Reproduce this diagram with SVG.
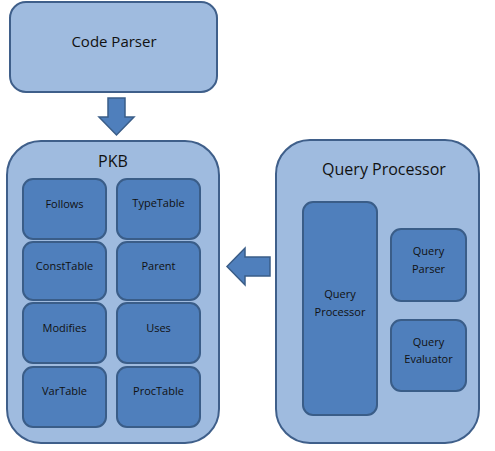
<svg xmlns="http://www.w3.org/2000/svg" width="495" height="451" viewBox="0 0 495 451">
<style>
.outer{fill:#9FBBDF;stroke:#3F5F8A;stroke-width:2}
.inner{fill:#4F7FBC;stroke:#3A5D88;stroke-width:2}
.arrow{fill:#4F7FBC;stroke:#3A5D88;stroke-width:1.5}
text{font-family:"Open Sans","Noto Sans","Liberation Sans",sans-serif;fill:#111;text-anchor:middle}
.big{font-size:15px}
.title{font-size:16px}
.small{font-size:11px}
</style>
<rect width="495" height="451" fill="#fff"/>
<g id="code-parser">
<rect class="outer" x="10" y="2" width="207" height="90" rx="16"/>
<text class="big" x="114" y="47">Code Parser</text>
</g>
<g id="pkb">
<rect class="outer" x="7" y="141" width="212" height="302" rx="34"/>
<text class="title" x="113" y="167">PKB</text>
</g>
<g id="follows"><rect class="inner" x="23" y="179" width="83" height="60" rx="10"/><text class="small" x="64.5" y="208">Follows</text></g>
<g id="typetable"><rect class="inner" x="117" y="179" width="83" height="60" rx="10"/><text class="small" x="158.5" y="207">TypeTable</text></g>
<g id="consttable"><rect class="inner" x="23" y="242" width="83" height="58" rx="10"/><text class="small" x="64.5" y="270">ConstTable</text></g>
<g id="parent"><rect class="inner" x="117" y="242" width="83" height="58" rx="10"/><text class="small" x="158.5" y="270">Parent</text></g>
<g id="modifies"><rect class="inner" x="23" y="303" width="83" height="60" rx="10"/><text class="small" x="64.5" y="332">Modifies</text></g>
<g id="uses"><rect class="inner" x="117" y="303" width="83" height="60" rx="10"/><text class="small" x="158.5" y="332">Uses</text></g>
<g id="vartable"><rect class="inner" x="23" y="367" width="83" height="60" rx="10"/><text class="small" x="64.5" y="395">VarTable</text></g>
<g id="proctable"><rect class="inner" x="117" y="367" width="83" height="60" rx="10"/><text class="small" x="158.5" y="395">ProcTable</text></g>
<g id="query-processor">
<rect class="outer" x="276" y="140" width="203" height="303" rx="34"/>
<text class="title" x="384" y="175">Query Processor</text>
</g>
<g id="qp-inner"><rect class="inner" x="303" y="202" width="74" height="213" rx="10"/><text class="small" x="340" y="298">Query</text><text class="small" x="340" y="316">Processor</text></g>
<g id="query-parser"><rect class="inner" x="391" y="229" width="75" height="72" rx="10"/><text class="small" x="428.5" y="255">Query</text><text class="small" x="428.5" y="273">Parser</text></g>
<g id="query-evaluator"><rect class="inner" x="391" y="320" width="75" height="71" rx="10"/><text class="small" x="428.5" y="346">Query</text><text class="small" x="428.5" y="363">Evaluator</text></g>
<g id="connectors">
<polygon class="arrow" points="108,98 125,98 125,117 134,117 116.5,135 99,117 108,117"/>
<polygon class="arrow" points="270,257 245,257 245,248 227,266.5 245,285 245,276 270,276"/>
</g>
</svg>
